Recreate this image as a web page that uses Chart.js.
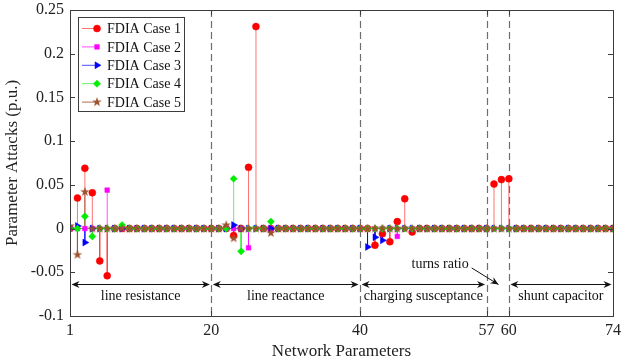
<!DOCTYPE html>
<html>
<head>
<meta charset="utf-8">
<script src="https://cdn.jsdelivr.net/npm/chart.js@4.4.0/dist/chart.umd.min.js"></script>
<style>
html,body{margin:0;padding:0;background:#fff}
</style>
</head>
<body>
<canvas id="c" width="630" height="362"></canvas>
<script>
// parameter attack values (p.u.) for parameters 1..74
const case1 = [
  0, 0.035, 0.069, 0.041, -0.037, -0.054, 0, 0, 0, 0,
  0, 0, 0, 0, 0, 0, 0, 0, 0, 0,
  0, 0, -0.008, 0, 0.070, 0.231, 0, 0, 0, 0,
  0, 0, 0, 0, 0, 0, 0, 0, 0, 0,
  0, -0.019, -0.006, -0.015, 0.008, 0.034, -0.004, 0, 0, 0,
  0, 0, 0, 0, 0, 0, 0, 0.051, 0.056, 0.057,
  0, 0, 0, 0, 0, 0, 0, 0, 0, 0,
  0, 0, 0, 0
];
const case2 = [
  0, 0, 0, 0, 0, 0.044, 0, 0, 0, 0,
  0, 0, 0, 0, 0, 0, 0, 0, 0, 0,
  0, 0, 0, 0, -0.022, 0, 0, 0, 0, 0,
  0, 0, 0, 0, 0, 0, 0, 0, 0, 0,
  0, 0, 0, 0, -0.009, 0, 0, 0, 0, 0,
  0, 0, 0, 0, 0, 0, 0, 0, 0, 0,
  0, 0, 0, 0, 0, 0, 0, 0, 0, 0,
  0, 0, 0, 0
];
const case3 = [
  0, 0.003, -0.016, 0, 0, 0, 0, 0, 0, 0,
  0, 0, 0, 0, 0, 0, 0, 0, 0, 0,
  0, 0, 0.004, 0, 0, 0, 0, 0, 0, 0,
  0, 0, 0, 0, 0, 0, 0, 0, 0, 0,
  -0.021, -0.010, -0.0135, 0, 0, 0, 0, 0, 0, 0,
  0, 0, 0, 0, 0, 0, 0, 0, 0, 0,
  0, 0, 0, 0, 0, 0, 0, 0, 0, 0,
  0, 0, 0, 0
];
const case4 = [
  0, 0, 0.014, -0.009, 0, 0, 0, 0.004, 0, 0,
  0, 0, 0, 0, 0, 0, 0, 0, 0, 0,
  0, 0, 0.057, -0.026, 0, 0, 0, 0.008, 0, 0,
  0, 0, 0, 0, 0, 0, 0, 0, 0, 0,
  0, 0, 0, 0, 0, 0, 0, 0, 0, 0,
  0, 0, 0, 0, 0, 0, 0, 0, 0, 0,
  0, 0, 0, 0, 0, 0, 0, 0, 0, 0,
  0, 0, 0, 0
];
const case5 = [
  0.003, -0.030, 0.042, 0, 0, 0, 0, 0, 0, 0,
  0, 0, 0, 0, 0, 0, 0, 0, 0, 0,
  0, 0.004, -0.011, 0, 0, 0, 0, -0.005, 0, 0,
  0, 0, 0, 0, 0, 0, 0, 0, 0, 0,
  0, 0, 0, 0, 0, 0, 0, 0, 0, 0,
  0, 0, 0, 0, 0, 0, 0, 0, 0, 0,
  0, 0, 0, 0, 0, 0, 0, 0, 0, 0,
  0, 0, 0, 0
];
const caseNames = ['FDIA Case 1','FDIA Case 2','FDIA Case 3','FDIA Case 4','FDIA Case 5'];
const xTickVals = [1, 20, 40, 57, 60, 74];
const yTickVals = [-0.1, -0.05, 0, 0.05, 0.1, 0.15, 0.2, 0.25];
const bounds = [20, 40, 57, 60];
const regions = [[1,20,'line resistance'],[20,40,'line reactance'],[40,57,'charging susceptance'],[60,74,'shunt capacitor']];

const SERIF = '"Liberation Serif","Times New Roman",serif';

// filled pentagram for case 5
function makeStar(color, size){
  const cv = document.createElement('canvas');
  cv.width = size; cv.height = size;
  const g = cv.getContext('2d');
  const c = size/2, R = size/2, r = R*0.4;
  g.beginPath();
  for(let i=0;i<10;i++){
    const a = -Math.PI/2 + i*Math.PI/5;
    const rr = i%2 ? r : R;
    g.lineTo(c + rr*Math.cos(a), c + rr*Math.sin(a));
  }
  g.closePath();
  g.fillStyle = color; g.fill();
  return cv;
}
const brown = '#a0522d';
const starImg = makeStar(brown, 10);

const styles = [
  {vals:case1, color:'#ff0000', stem:'rgba(255,40,40,0.65)', pt:'circle', r:3.5, rot:0},
  {vals:case2, color:'#ff00ff', stem:'rgba(255,0,255,0.7)', pt:'rect', r:3.3, rot:0},
  {vals:case3, color:'#0000ff', stem:'rgba(0,0,255,0.7)', pt:'triangle', r:4, rot:90},
  {vals:case4, color:'#00ee00', stem:'rgba(0,230,0,0.6)', pt:'rectRot', r:3.6, rot:0},
  {vals:case5, color:brown, stem:'rgba(160,82,45,0.85)', pt:starImg, r:4.5, rot:0}
];

function stemData(vals){
  const out = [];
  vals.forEach((v,i)=>{
    if(v !== 0){
      out.push({x:i+1,y:0},{x:i+1,y:v},{x:i+1,y:null});
    }
  });
  return out;
}

const datasets = [];
styles.forEach((s,k)=>{
  datasets.push({
    type:'line', label:caseNames[k]+' stem', data:stemData(s.vals),
    borderColor:s.stem, borderWidth:1, pointRadius:0, showLine:true, spanGaps:false,
    order:20-k
  });
});
styles.forEach((s,k)=>{
  datasets.push({
    type:'scatter', label:caseNames[k],
    data:s.vals.map((v,i)=>({x:i+1,y:v})),
    pointStyle:s.pt, pointRadius:s.r, pointRotation:s.rot,
    backgroundColor:s.color, borderColor:s.color, borderWidth:0.5,
    showLine:false, order:4-k
  });
});

function arrowHead(ctx, x, y, ang){
  ctx.save();
  ctx.translate(x,y); ctx.rotate(ang);
  ctx.beginPath();
  ctx.moveTo(0,0); ctx.lineTo(-8,-3.5); ctx.lineTo(-5.5,0); ctx.lineTo(-8,3.5);
  ctx.closePath(); ctx.fill();
  ctx.restore();
}

const decor = {
  id:'decor',
  beforeDatasetsDraw(chart){
    const {ctx, chartArea:a, scales:{x, y}} = chart;
    ctx.save();
    // baseline
    ctx.strokeStyle = '#555'; ctx.lineWidth = 0.8;
    ctx.beginPath(); ctx.moveTo(x.getPixelForValue(1), y.getPixelForValue(0));
    ctx.lineTo(x.getPixelForValue(74), y.getPixelForValue(0)); ctx.stroke();
    // region separators
    ctx.strokeStyle = '#6e6e6e'; ctx.lineWidth = 1.2; ctx.setLineDash([7,4]);
    bounds.forEach(b=>{
      const px = Math.round(x.getPixelForValue(b))+0.5;
      ctx.beginPath(); ctx.moveTo(px, a.top); ctx.lineTo(px, a.bottom); ctx.stroke();
    });
    ctx.restore();
  },
  afterDraw(chart){
    const {ctx, chartArea:a, scales:{x, y}} = chart;
    ctx.save();
    // box and inward ticks
    ctx.strokeStyle = '#3c3c3c'; ctx.lineWidth = 1;
    ctx.strokeRect(a.left+0.5, a.top+0.5, a.right-a.left, a.bottom-a.top);
    ctx.beginPath();
    yTickVals.forEach(v=>{
      const py = Math.round(y.getPixelForValue(v))+0.5;
      ctx.moveTo(a.left, py); ctx.lineTo(a.left+5, py);
      ctx.moveTo(a.right, py); ctx.lineTo(a.right-5, py);
    });
    xTickVals.forEach(v=>{
      const px = Math.round(x.getPixelForValue(v))+0.5;
      ctx.moveTo(px, a.bottom); ctx.lineTo(px, a.bottom-5);
      ctx.moveTo(px, a.top); ctx.lineTo(px, a.top+5);
    });
    ctx.stroke();

    // region arrows and labels
    ctx.fillStyle = '#111'; ctx.strokeStyle = '#111'; ctx.lineWidth = 1;
    ctx.font = '14px ' + SERIF;
    ctx.textAlign = 'center'; ctx.textBaseline = 'middle';
    const ay = Math.round(y.getPixelForValue(-0.063))+0.5;
    const ty = y.getPixelForValue(-0.077);
    regions.forEach(([s,e,txt])=>{
      const x0 = x.getPixelForValue(s)+1.5, x1 = x.getPixelForValue(e)-1.5;
      ctx.beginPath(); ctx.moveTo(x0+4, ay); ctx.lineTo(x1-4, ay); ctx.stroke();
      arrowHead(ctx, x0, ay, Math.PI);
      arrowHead(ctx, x1, ay, 0);
      ctx.fillText(txt, x.getPixelForValue((s+e)/2), ty);
    });
    // turns ratio note
    ctx.textAlign = 'right';
    ctx.fillText('turns ratio', x.getPixelForValue(54.6), y.getPixelForValue(-0.0413));
    const tx0 = x.getPixelForValue(55.0), ty0 = y.getPixelForValue(-0.045);
    const tx1 = x.getPixelForValue(58.6), ty1 = y.getPixelForValue(-0.064);
    ctx.beginPath(); ctx.moveTo(tx0, ty0); ctx.lineTo(tx1, ty1); ctx.stroke();
    arrowHead(ctx, tx1, ty1, Math.atan2(ty1-ty0, tx1-tx0));

    // legend
    const lx = a.left+8, ly = a.top+7, lw = 106, lh = 94;
    ctx.fillStyle = '#fff'; ctx.fillRect(lx, ly, lw, lh);
    ctx.strokeStyle = '#3c3c3c'; ctx.strokeRect(lx+0.5, ly+0.5, lw, lh);
    ctx.textAlign = 'left';
    styles.forEach((s,k)=>{
      const yy = ly + 11.5 + k*18.4;
      ctx.strokeStyle = s.stem; ctx.lineWidth = 1;
      ctx.beginPath(); ctx.moveTo(lx+4, yy); ctx.lineTo(lx+20, yy); ctx.stroke();
      ctx.fillStyle = s.color; ctx.strokeStyle = s.color; ctx.lineWidth = 0.5;
      Chart.helpers.drawPoint(ctx, {pointStyle:s.pt, radius:s.r, rotation:s.rot, borderWidth:0.5}, lx+19, yy);
      ctx.fillStyle = '#111';
      ctx.fillText(caseNames[k], lx+29, yy+1);
    });
    ctx.restore();
  }
};

new Chart(document.getElementById('c'), {
  type:'scatter',
  data:{datasets:datasets},
  options:{
    responsive:false,
    animation:false,
    devicePixelRatio:1,
    layout:{padding:{left:0, right:17, top:10, bottom:0}},
    plugins:{legend:{display:false}, tooltip:{enabled:false}},
    scales:{
      x:{
        type:'linear', min:1, max:74,
        afterBuildTicks:s=>{ s.ticks = xTickVals.map(v=>({value:v})); },
        afterFit:s=>{ s.height = 46; s.paddingLeft = 0; s.paddingRight = 0; },
        grid:{display:false, drawTicks:false},
        border:{display:false},
        ticks:{autoSkip:false, maxRotation:0, padding:5, color:'#222', font:{family:SERIF, size:16}},
        title:{display:true, text:'Network Parameters', color:'#222', padding:{top:0,bottom:0}, font:{family:SERIF, size:17}}
      },
      y:{
        min:-0.1, max:0.25,
        afterBuildTicks:s=>{ s.ticks = yTickVals.map(v=>({value:v})); },
        afterFit:s=>{ s.width = 70; s.paddingTop = 0; s.paddingBottom = 0; },
        grid:{display:false, drawTicks:false},
        border:{display:false},
        ticks:{padding:6, color:'#222', font:{family:SERIF, size:16},
          callback:v=>String(Number(v.toFixed(2)))},
        title:{display:true, text:'Parameter Attacks (p.u.)', color:'#222', padding:{top:2,bottom:0}, font:{family:SERIF, size:17}}
      }
    }
  },
  plugins:[decor]
});
</script>
</body>
</html>
